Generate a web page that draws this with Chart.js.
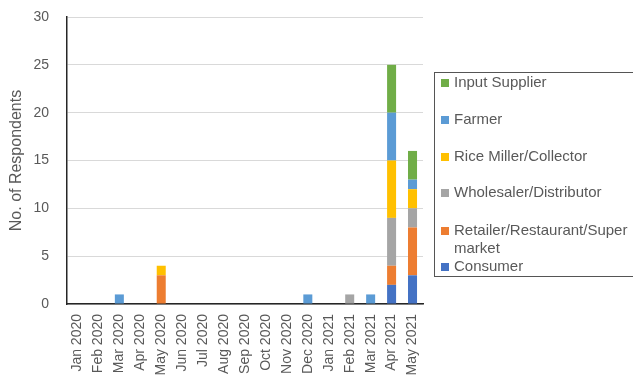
<!DOCTYPE html>
<html>
<head>
<meta charset="utf-8">
<script src="https://cdn.jsdelivr.net/npm/chart.js"></script>
<style>
  html, body { margin:0; padding:0; background:#fff; }
  #wrap { position:relative; width:633px; height:376px; overflow:hidden; font-family:'Liberation Sans', Arial, sans-serif; }
  #chart { position:absolute; left:0; top:0; }
  #legend { position:absolute; left:434px; top:72px; width:210px; height:205px; border:1px solid #555; box-sizing:border-box; }
  .item { position:absolute; left:6px; padding-left:13px; text-indent:-13px; font-size:15px; line-height:18px; color:#595959; width:200px; white-space:nowrap; }
  .item i { display:inline-block; width:8px; height:8px; margin-right:5px; vertical-align:0px; }
</style>
</head>
<body>
<div id="wrap">
  <canvas id="chart" width="633" height="376"></canvas>
  <div id="legend"></div>
</div>
<script>
const months = ['Jan 2020','Feb 2020','Mar 2020','Apr 2020','May 2020','Jun 2020','Jul 2020','Aug 2020',
                'Sep 2020','Oct 2020','Nov 2020','Dec 2020','Jan 2021','Feb 2021','Mar 2021','Apr 2021','May 2021'];

// respondents per month, stacked bottom to top
const consumer    = [0,0,0,0,0,0,0,0,0,0,0,0,0,0,0,2,3];
const retailer    = [0,0,0,0,3,0,0,0,0,0,0,0,0,0,0,2,5];
const wholesaler  = [0,0,0,0,0,0,0,0,0,0,0,0,0,1,0,5,2];
const riceMiller  = [0,0,0,0,1,0,0,0,0,0,0,0,0,0,0,6,2];
const farmer      = [0,0,1,0,0,0,0,0,0,0,0,1,0,0,1,5,1];
const inputSupply = [0,0,0,0,0,0,0,0,0,0,0,0,0,0,0,5,3];

const yTicks = [0,5,10,15,20,25,30];

const series = [
  { label:'Consumer', data:consumer, color:'#4472C4' },
  { label:'Retailer/Restaurant/Supermarket', data:retailer, color:'#ED7D31' },
  { label:'Wholesaler/Distributor', data:wholesaler, color:'#A5A5A5' },
  { label:'Rice Miller/Collector', data:riceMiller, color:'#FFC000' },
  { label:'Farmer', data:farmer, color:'#5B9BD5' },
  { label:'Input Supplier', data:inputSupply, color:'#70AD47' }
];

const FONT = "'Liberation Sans', Arial, sans-serif";

new Chart(document.getElementById('chart'), {
  type:'bar',
  data:{
    labels: months,
    datasets: series.map(s => ({
      label:s.label, data:s.data, backgroundColor:s.color,
      barPercentage:0.43, categoryPercentage:1, borderWidth:0
    }))
  },
  options:{
    responsive:false, animation:false,
    layout:{ padding:{ left:0, right:210, top:17, bottom:0 } },
    plugins:{ legend:{ display:false }, tooltip:{ enabled:false } },
    scales:{
      x:{
        stacked:true,
        grid:{ display:false, drawTicks:false },
        border:{ color:'#262626', width:1.5 },
        ticks:{ color:'#595959', font:{ size:14, family:FONT }, minRotation:90, maxRotation:90, padding:10, autoSkip:false },
        afterFit: sc => { sc.height = 72; }
      },
      y:{
        stacked:true, min:0, max:30,
        afterBuildTicks: sc => { sc.ticks = yTicks.map(v => ({ value:v })); },
        grid:{ color:'#d9d9d9', drawTicks:false },
        border:{ color:'#262626', width:1.5 },
        ticks:{ color:'#595959', font:{ size:14, family:FONT }, padding:18 },
        title:{ display:true, text:'No. of Respondents', color:'#595959', font:{ size:16, family:FONT }, padding:{ top:7, bottom:0 } },
        // fixed axis width; drop the tick-label overhang so the top padding sets the plot top
        afterFit: sc => { sc.width = 67; sc.paddingTop = 0; sc.paddingBottom = 0; }
      }
    }
  }
});

// legend box, top entry is the top of the stack
const legend = document.getElementById('legend');
const tops = [0, 37, 74, 110, 148, 184];
series.slice().reverse().forEach((s, i) => {
  const d = document.createElement('div');
  d.className = 'item';
  d.style.top = tops[i] + 'px';
  let txt = s.label;
  if (txt === 'Retailer/Restaurant/Supermarket') txt = 'Retailer/Restaurant/Super<br>market';
  d.innerHTML = '<i style="background:' + s.color + '"></i>' + txt;
  legend.appendChild(d);
});
</script>
</body>
</html>
